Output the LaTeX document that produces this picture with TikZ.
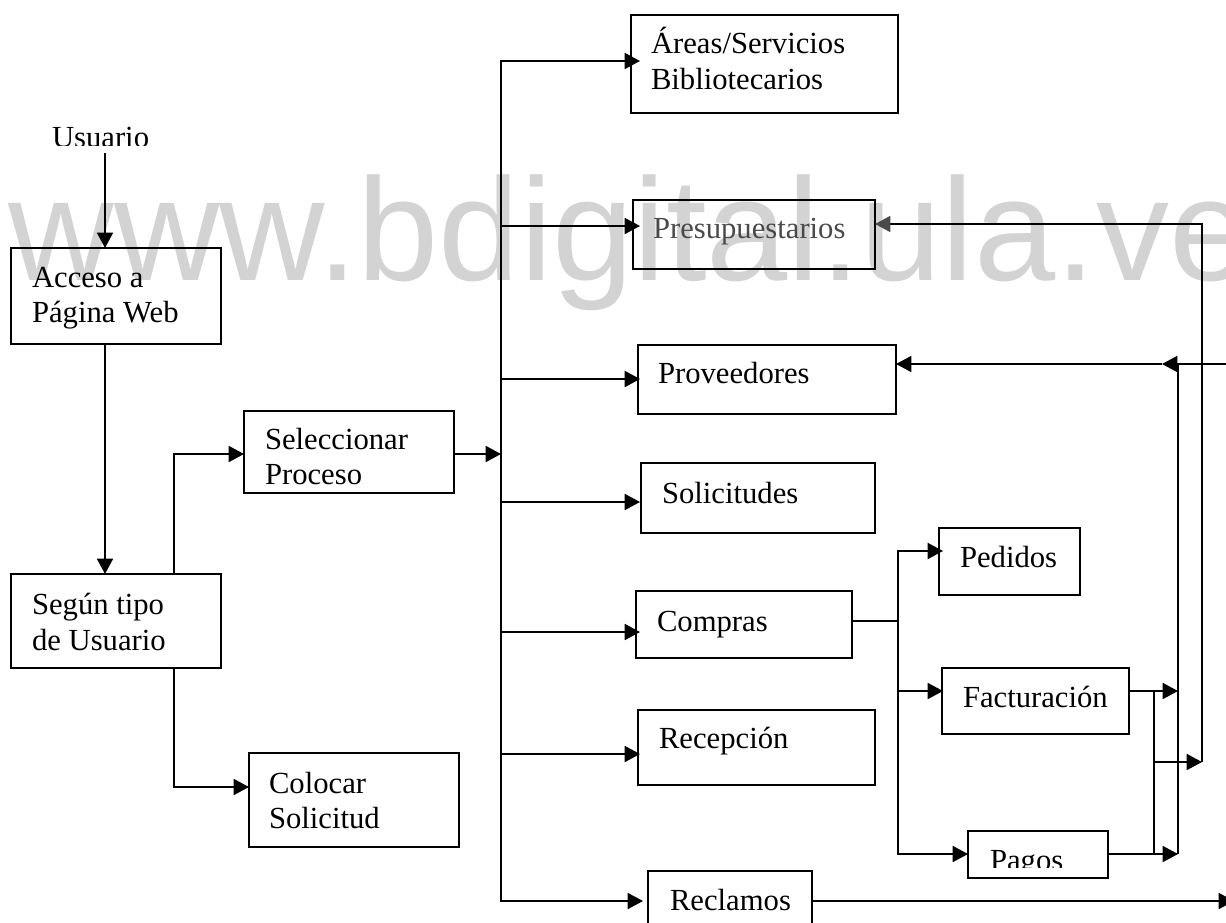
\documentclass[tikz,border=0pt]{standalone}
\usepackage{fontspec}
\setmainfont{Liberation Serif}
\newfontfamily\marksans{Liberation Sans}
\usetikzlibrary{arrows.meta}
\definecolor{wm}{HTML}{D3D3D3}
\definecolor{dim}{HTML}{4A4A4A}
% box given by its top-left and bottom-right corners (pixel units)
\newcommand\boxat[5]{\node[box, minimum width={(#4-#2)*0.75pt}, minimum height={(#5-#3)*0.75pt}] (#1) at (#2,#3) {};}
\begin{document}
\begin{tikzpicture}[x=0.75pt,y=-0.75pt,
  line width=1.3pt,
  box/.style={draw, rectangle, inner sep=0pt, outer sep=0pt, anchor=north west},
  lbl/.style={anchor=base west, inner sep=0pt, outer sep=0pt, font=\fontsize{23}{27}\selectfont},
  arr/.style={-{Triangle[length=11.5pt,width=12pt]}},
  darr/.style={{Triangle[length=11.5pt,width=12pt]}-{Triangle[length=11.5pt,width=12pt]}}]
\useasboundingbox (0,0) rectangle (1226,922);
\clip (0,0) rectangle (1226,922);

% background mark
\node[anchor=base west, inner sep=0pt, text=wm, font=\marksans\fontsize{109.5}{120}\selectfont] (wmark) at (8,280) {www.bdigital.ula.ve};

% boxes
\boxat{acc}{11}{248}{221}{344}
\boxat{seg}{11}{574}{221}{668}
\boxat{sel}{244}{411}{454}{493}
\boxat{col}{249}{753}{459}{847}
\boxat{are}{631}{15}{898}{113}
\boxat{pre}{633}{200}{875}{269}
\boxat{prv}{638}{345}{896}{414}
\boxat{sol}{641}{463}{875}{533}
\boxat{com}{636}{591}{852}{658}
\boxat{rec}{638}{710}{875}{785}
\boxat{rcl}{648}{871}{812}{940}
\boxat{ped}{939}{528}{1080}{595}
\boxat{fac}{942}{668}{1129}{734}
\boxat{pag}{968}{831}{1108}{878}

% labels
\begin{scope}
  \clip (0,100) rectangle (300,145);
  \node[lbl] (usr) at (52,147) {Usuario};
\end{scope}
\node[lbl] (acc-a) at (32,287) {Acceso a};
\node[lbl] (acc-b) at (32,322) {Página Web};
\node[lbl] (seg-a) at (32,614) {Según tipo};
\node[lbl] (seg-b) at (32,650) {de Usuario};
\node[lbl] (sel-a) at (265,449) {Seleccionar};
\node[lbl] (sel-b) at (265,484) {Proceso};
\node[lbl] (col-a) at (269,793) {Colocar};
\node[lbl] (col-b) at (269,828) {Solicitud};
\node[lbl] (are-a) at (651,53) {Áreas/Servicios};
\node[lbl] (are-b) at (651,89) {Bibliotecarios};
\node[lbl, text=dim] (pre-a) at (653,238) {Presupuestarios};
\node[lbl] (prv-a) at (658,383) {Proveedores};
\node[lbl] (sol-a) at (662,503) {Solicitudes};
\node[lbl] (com-a) at (657,631) {Compras};
\node[lbl] (rec-a) at (659,748) {Recepción};
\node[lbl] (rcl-a) at (670,910) {Reclamos};
\node[lbl] (ped-a) at (960,567) {Pedidos};
\node[lbl] (fac-a) at (963,707) {Facturación};
\begin{scope}
  \clip (968,831) rectangle (1108,867);
  \node[lbl] (pag-a) at (990,870) {Pagos};
\end{scope}

% junction points
\coordinate (usr-foot) at (105,153);
\coordinate (seg-up) at (174,454);
\coordinate (seg-dn) at (174,787);
\coordinate (bus-top) at (501,61);
\coordinate (r-are) at (640,61);
\coordinate (r-pre) at (640,226);
\coordinate (r-prv) at (640,379);
\coordinate (r-sol) at (640,502);
\coordinate (r-com) at (640,632);
\coordinate (r-rec) at (640,754);
\coordinate (r-rcl) at (643,901);
\coordinate (cb) at (898,621);
\coordinate (r-ped) at (943,551);
\coordinate (r-fac) at (943,691);
\coordinate (r-pag) at (968,854);
\coordinate (vA) at (1178,364);
\coordinate (vB) at (1154,762);
\coordinate (vC) at (1202,224);
\coordinate (edge-in) at (1240,364);
\coordinate (prv-knot) at (1162,364);
\coordinate (edge-out) at (1234,901);

% left column
\draw[arr] (usr-foot) -- (usr-foot |- acc.north);
\draw[arr] (acc.south -| usr-foot) -- (seg.north -| usr-foot);
\draw[arr] (seg.north -| seg-up) -- (seg-up) -- (sel.west |- seg-up);
\draw[arr] (seg.south -| seg-dn) -- (seg-dn) -- (col.west |- seg-dn);
\draw[arr] (sel.east |- seg-up) -- (bus-top |- seg-up);

% main bus and its branches
\draw[darr, line join=miter] (r-are) -- (bus-top) -- (bus-top |- r-rcl) -- (r-rcl);
\draw[arr] (bus-top |- r-pre) -- (r-pre);
\draw[arr] (bus-top |- r-prv) -- (r-prv);
\draw[arr] (bus-top |- r-sol) -- (r-sol);
\draw[arr] (bus-top |- r-com) -- (r-com);
\draw[arr] (bus-top |- r-rec) -- (r-rec);

% purchase branch
\draw (com.east |- cb) -- (cb);
\draw[darr, line join=miter] (r-ped) -- (cb |- r-ped) -- (cb |- r-pag) -- (r-pag);
\draw[arr] (cb |- r-fac) -- (r-fac);

% return paths on the right
\draw[arr] (fac.east |- r-fac) -- (vA |- r-fac);
\draw[arr] (pag.east |- r-pag) -- (vA |- r-pag);
\draw (vA |- r-pag) -- (vA);
\draw (vB |- r-fac) -- (vB |- r-pag);
\draw[arr] (vB) -- (vC |- vB);
\draw[-{Triangle[length=11.5pt,width=12pt,color=dim]}, line join=miter] (vC |- vB) -- (vC) -- (pre.east |- vC);
\draw[arr] (edge-in) -- (prv-knot);
\draw[arr] (prv-knot) -- (prv.east |- prv-knot);
\draw[arr] (rcl.east |- r-rcl) -- (edge-out);
\end{tikzpicture}
\end{document}
